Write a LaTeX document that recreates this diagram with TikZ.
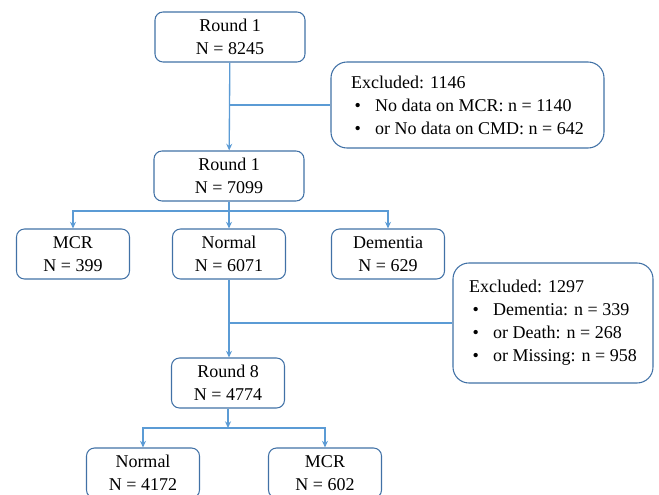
\documentclass[tikz,border=0pt]{standalone}
\usepackage{xcolor}
\usepackage{fontspec}
\setmainfont{Liberation Serif}
\usepackage{tikz}
\usetikzlibrary{arrows.meta, positioning}
\definecolor{boxline}{RGB}{65, 113, 166}
\definecolor{flow}{RGB}{91, 155, 213}
\newcommand{\bulletitem}{\hspace*{2.5pt}\makebox[15.5pt][l]{\textbullet}}

\begin{document}
\begin{tikzpicture}[
  x=0.75pt, y=-0.75pt,
  stage/.style   = {rectangle, rounded corners=6pt, draw=boxline, thick,
                    minimum width=84.75pt, minimum height=37.5pt,
                    align=center, inner sep=2pt,
                    font=\fontsize{13.5}{17.25}\selectfont},
  wide/.style    = {stage, minimum width=112.5pt},
  excl/.style    = {rectangle, rounded corners=12pt, draw=boxline, thick,
                    align=left, inner sep=2pt,
                    font=\fontsize{13.5}{17.25}\selectfont},
  arr/.style     = {-{Stealth[length=5pt,width=4.5pt]}, flow, line width=1pt},
  link/.style    = {flow, line width=1pt},
]
  \clip (0,0) rectangle (659,495);
  \useasboundingbox (0,0) rectangle (659,495);

  % Rounds
  \node[wide]  (first)  at (230,37)  {Round 1\\N = 8245};
  \node[wide]  (second) at (229,176) {Round 1\\N = 7099};
  \node[stage] (eighth) at (228,383) {Round 8\\N = 4774};

  % Groups after round 1
  \node[stage] (mcr)      at (73,254)  {MCR\\N = 399};
  \node[stage] (normal)   at (229,254) {Normal\\N = 6071};
  \node[stage] (dementia) at (388,254) {Dementia\\N = 629};

  % Groups after round 8
  \node[stage] (normalB) at (143,473) {Normal\\N = 4172};
  \node[stage] (mcrB)    at (325,473) {MCR\\N = 602};

  % Exclusions
  \node[excl, minimum width=204.75pt, minimum height=64.5pt] (exclA) at (467.5,105)
    {Excluded: 1146\\
     \bulletitem No data on MCR: n = 1140\\
     \bulletitem or No data on CMD: n = 642};
  \node[excl, minimum width=150pt, minimum height=90pt] (exclB) at (553,323)
    {Excluded: 1297\\
     \bulletitem Dementia: n = 339\\
     \bulletitem or Death: n = 268\\
     \bulletitem or Missing: n = 958};

  \coordinate (splitA) at (229,211);
  \coordinate (splitB) at (228,428);

  \draw[arr]  (first)  -- (second);
  \draw[link] (first.south |- exclA.west) -- (exclA.west);
  \draw[link] (second) -- (splitA);
  \draw[arr]  (splitA) -| (mcr.north);
  \draw[arr]  (splitA) -- (normal);
  \draw[arr]  (splitA) -| (dementia.north);
  \draw[arr]  (normal) -- (eighth.north -| normal.south);
  \draw[link] (normal.south |- exclB.west) -- (exclB.west);
  \draw[arr]  (eighth) -- (splitB);
  \draw[arr]  (splitB) -| (normalB.north);
  \draw[arr]  (splitB) -| (mcrB.north);
\end{tikzpicture}
\end{document}
